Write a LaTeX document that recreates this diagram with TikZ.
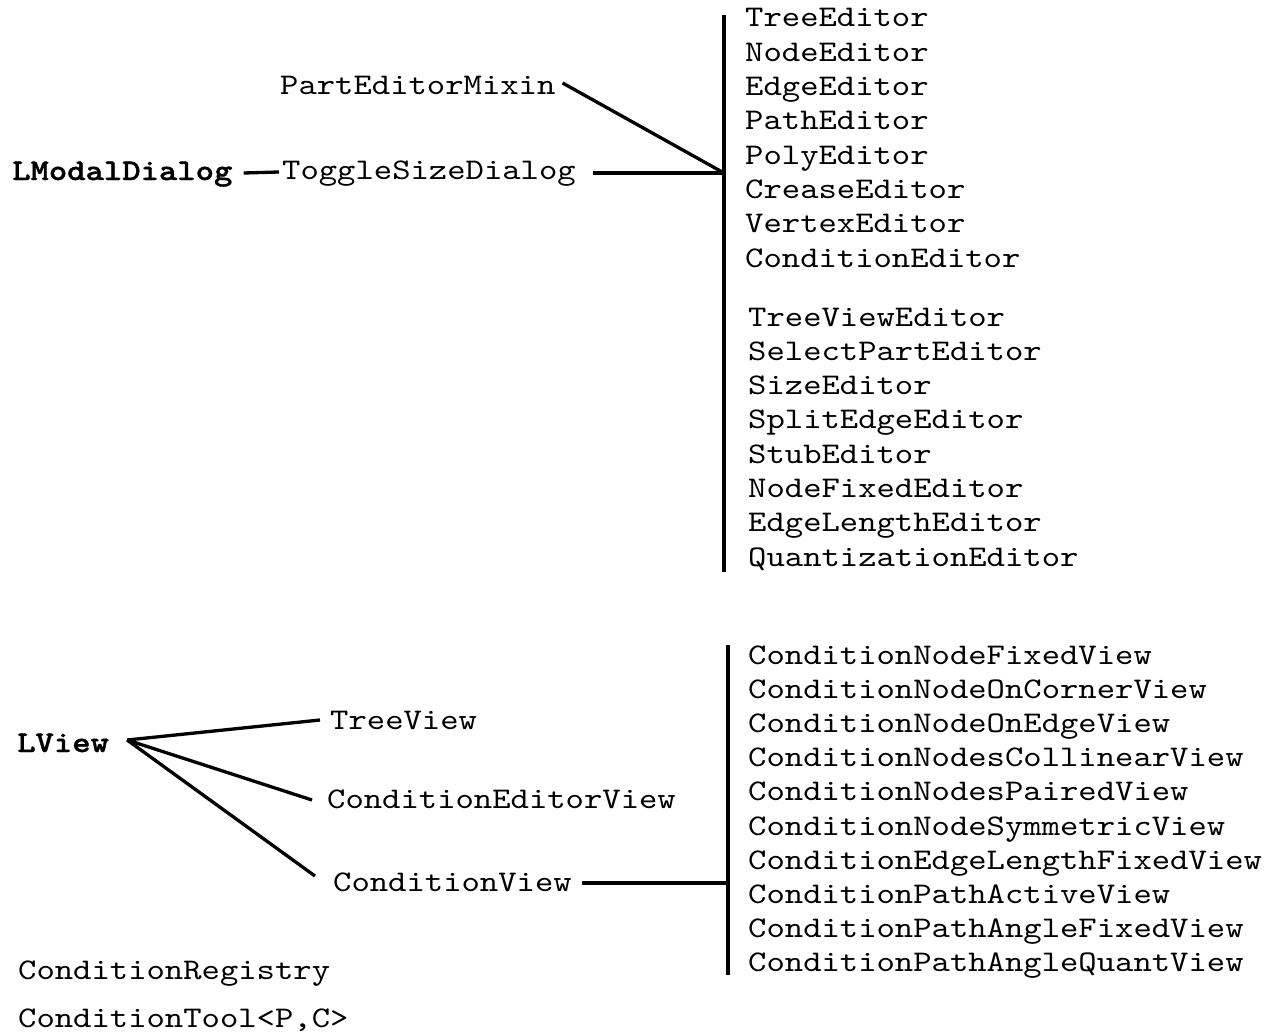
\documentclass[tikz,border=0pt]{standalone}
\usepackage{fontspec}
\usetikzlibrary{calc}
\newfontfamily\cmono{lmmono10-regular}[Extension=.otf, FakeStretch=1.165]
\newfontfamily\cmonob{lmmonolt10-bold}[Extension=.otf, FakeStretch=1.165, FakeBold=1.2]
\newcommand\monofont{\cmono\fontsize{30pt}{34pt}\selectfont}
\newcommand\monobfont{\cmonob\fontsize{30pt}{34pt}\selectfont}
\begin{document}
\begin{tikzpicture}[x=1pt,y=-1pt,
  txt/.style={anchor=base west,inner sep=0pt,font=\monofont},
  bx/.style={anchor=base west,inner sep=0pt,font=\monobfont},
  ln/.style={line width=3.3pt}]
\useasboundingbox (0,0) rectangle (1277,1033);

% upper part
\node[bx]  (lmd) at (12,180) {LModalDialog};
\node[txt] (pem) at (280,95) {PartEditorMixin};
\node[txt] (tsd) at (282,179) {ToggleSizeDialog};

\coordinate (bar1top) at (724,15);
\coordinate (bar1bot) at (724,572);
\coordinate (j1) at (724,173);
\draw[ln] (bar1top) -- (bar1bot);

\foreach \t [count=\i from 0] in {TreeEditor,NodeEditor,EdgeEditor,PathEditor,PolyEditor,CreaseEditor,VertexEditor,ConditionEditor}
  \node[txt] (ea\i) at (745,27+34.3*\i) {\t};
\foreach \t [count=\i from 0] in {TreeViewEditor,SelectPartEditor,SizeEditor,SplitEdgeEditor,StubEditor,NodeFixedEditor,EdgeLengthEditor,QuantizationEditor}
  \node[txt] (eb\i) at (748,326+34.3*\i) {\t};

\draw[ln] ($(lmd.base east)+(11,-7)$) -- ($(tsd.base west)+(-3,-7)$);
\draw[ln] ($(pem.base east)+(7,-12)$) -- (j1);
\draw[ln] ($(tsd.base east)+(17,-6)$) -- (j1);

% lower part
\node[bx]  (lv)  at (17,752) {LView};
\node[txt] (tv)  at (330,729) {TreeView};
\node[txt] (cev) at (327,808) {ConditionEditorView};
\node[txt] (cv)  at (333,891) {ConditionView};

\coordinate (bar2top) at (728,645);
\coordinate (bar2bot) at (728,975);
\coordinate (j2) at (728,883);
\draw[ln] (bar2top) -- (bar2bot);

\foreach \t [count=\i from 0] in {ConditionNodeFixedView,ConditionNodeOnCornerView,ConditionNodeOnEdgeView,ConditionNodesCollinearView,ConditionNodesPairedView,ConditionNodeSymmetricView,ConditionEdgeLengthFixedView,ConditionPathActiveView,ConditionPathAngleFixedView,ConditionPathAngleQuantView}
  \node[txt] (cw\i) at (748,664+34.2*\i) {\t};

\coordinate (lvx) at ($(lv.base east)+(18,-12)$);
\draw[ln] (lvx) -- ($(tv.base west)+(-10,-9)$);
\draw[ln] (lvx) -- ($(cev.base west)+(-15,-8)$);
\draw[ln] (lvx) -- ($(cv.base west)+(-18,-15)$);
\draw[ln] ($(cv.base east)+(10,-8)$) -- (j2);

\node[txt] (creg) at (18,979) {ConditionRegistry};
\node[txt] (ctool) at (18,1027) {ConditionTool<P,C>};
\end{tikzpicture}
\end{document}
